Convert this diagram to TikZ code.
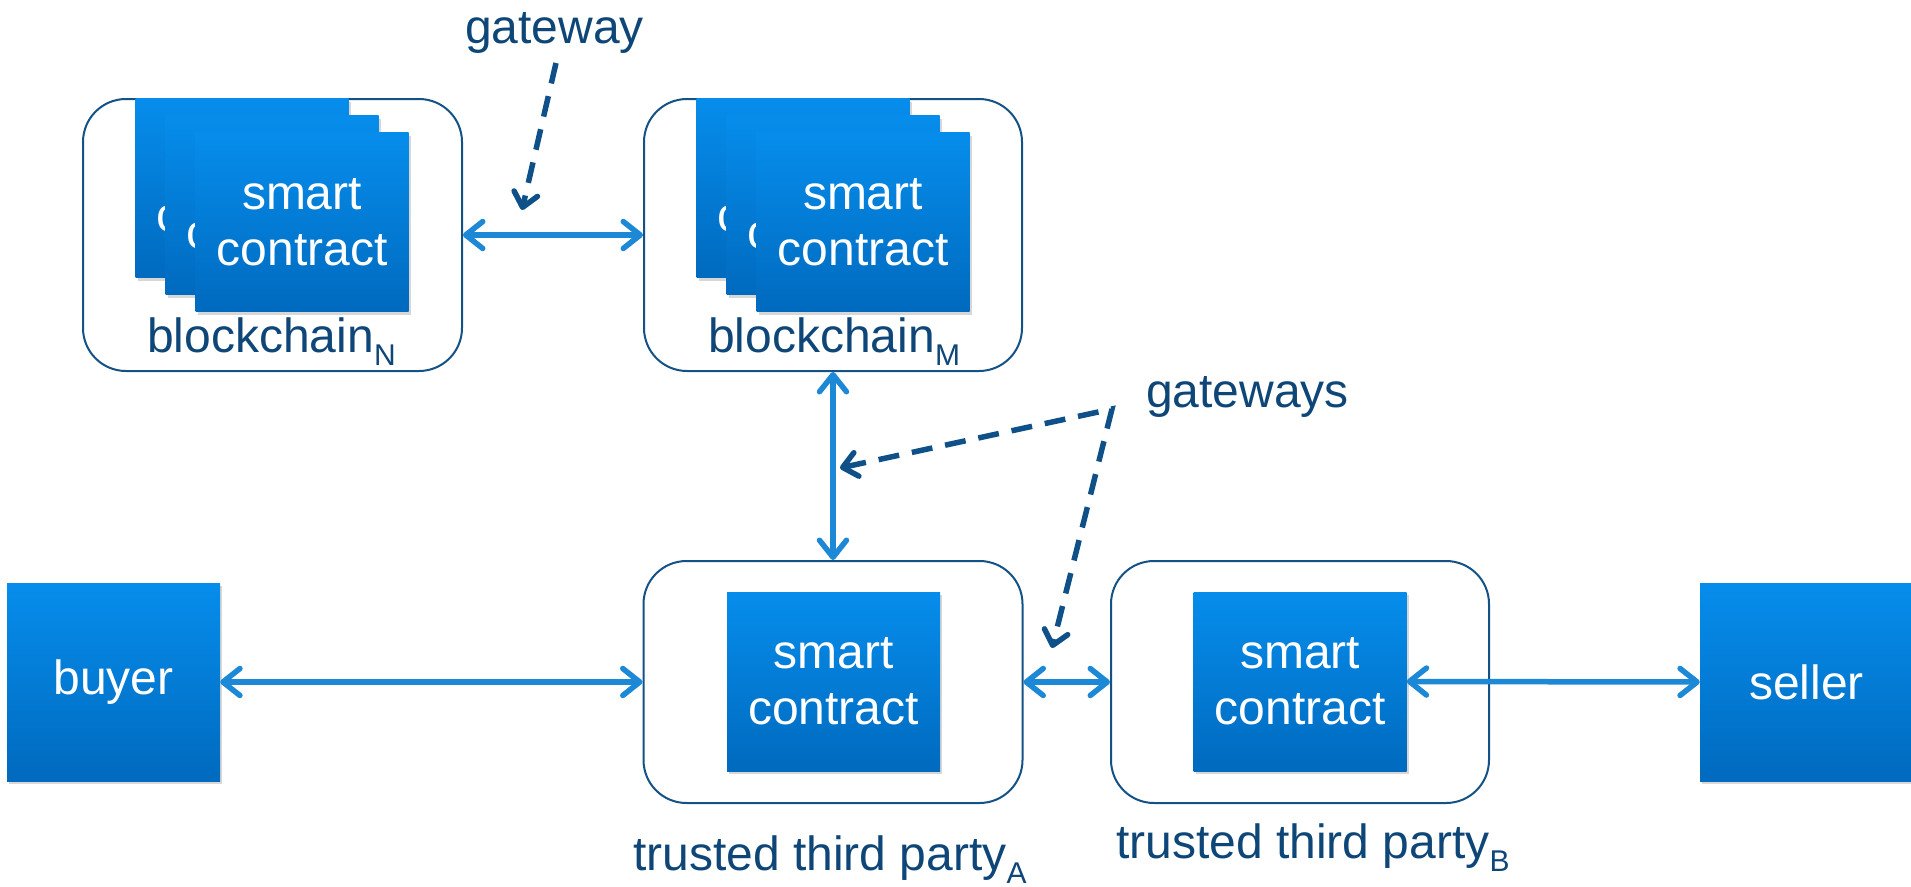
\documentclass[tikz,border=0pt]{standalone}
\usepackage{fontspec}
\setmainfont{Liberation Sans}
\usetikzlibrary{arrows.meta,shadows}
\definecolor{navy}{RGB}{14,70,120}
\definecolor{boxnavy}{RGB}{20,82,134}
\definecolor{dashnavy}{RGB}{14,80,135}
\definecolor{arrowblue}{RGB}{28,136,214}
\definecolor{cardtop}{RGB}{6,141,236}
\definecolor{cardbot}{RGB}{0,106,190}
\newcommand\myBig{\fontsize{48}{56}\selectfont}
\newcommand\mySub[1]{\raisebox{-13pt}{\fontsize{30}{30}\selectfont #1}}
\newcommand\hiddenSC{\phantom{smart}\\c\phantom{ontract}}
\begin{document}
\begin{tikzpicture}[x=1pt,y=-1pt,
  frame/.style={draw=boxnavy, line width=2pt, rounded corners=43pt, inner sep=0pt, fill=white},
  card/.style={draw=none, top color=cardtop, bottom color=cardbot, minimum width=213pt,
    minimum height=179pt, inner sep=0pt, text=white, align=center, font=\myBig,
    drop shadow={shadow xshift=2pt, shadow yshift=-3pt, opacity=0.22, fill=black!70}},
  party/.style={card, minimum height=198pt},
  lbl/.style={text=navy, font=\myBig, inner sep=0pt, anchor=base west},
  tipC/.style={Straight Barb[length=17pt,width=27pt,round]},
  conn/.style={draw=arrowblue, line width=5.5pt, {Straight Barb[length=17pt,width=27pt,round]}-{Straight Barb[length=17pt,width=27pt,round]}},
  gwline/.style={draw=dashnavy, line width=5.5pt, dash pattern=on 21pt off 13pt}
]
\useasboundingbox (0,0) rectangle (1911,886);

% containers
\node[frame, minimum width=379pt, minimum height=272pt] (Nbox) at (272.5,235) {};
\node[frame, minimum width=378pt, minimum height=272pt] (Mbox) at (833,235) {};
\node[frame, minimum width=379pt, minimum height=242pt] (Abox) at (833,682) {};
\node[frame, minimum width=378pt, minimum height=242pt] (Bbox) at (1300,682) {};

% stacked contracts, blockchain N
\node[card] (N1) at (242,188) {\hiddenSC};
\node[card] (N2) at (272,205) {\hiddenSC};
\node[card] (N3) at (302,222) {smart\\contract};
% stacked contracts, blockchain M
\node[card] (M1) at (803,188) {\hiddenSC};
\node[card] (M2) at (833,205) {\hiddenSC};
\node[card] (M3) at (863,222) {smart\\contract};
% trusted third parties
\node[card] (Acard) at (833.5,681.5) {smart\\contract};
\node[card] (Bcard) at (1300,681.5) {smart\\contract};
% buyer / seller
\node[party] (buyer) at (113.5,682) {buyer};
\node[party] (seller) at (1806.5,682) {seller};

% labels
\node[lbl] (lblN) at (147,352) {blockchain\mySub{N}};
\node[lbl] (lblM) at (708,352) {blockchain\mySub{M}};
\node[lbl] (lblA) at (633,870) {trusted third party\mySub{A}};
\node[lbl] (lblB) at (1116,858) {trusted third party\mySub{B}};
\node[lbl] (gw) at (465,43) {gateway};
\node[lbl] (gws) at (1146,407) {gateways};

% connectors
\draw[conn] (Nbox.east) -- (Mbox.west);
\draw[conn] (Mbox.south) -- (Abox.north);
\draw[conn] (buyer.east) -- (Abox.west);
\draw[conn] (Abox.east) -- (Bbox.west);
\draw[conn] (Bcard.east) -- (seller.west);

% gateway pointers
\coordinate (gwtail) at (556,63);
\coordinate (gwtip) at (522,210);
\draw[gwline, -{Straight Barb[length=14pt,width=24pt,round]}] (gwtail) -- (gwtip);
\coordinate (apex) at (1112,409);
\coordinate (tipV) at (840,468);
\coordinate (tipH) at (1052,648);
\draw[gwline, {Straight Barb[length=14pt,width=24pt,round]}-{Straight Barb[length=14pt,width=24pt,round]}] (tipV) -- (apex) -- (tipH);
\end{tikzpicture}
\end{document}
